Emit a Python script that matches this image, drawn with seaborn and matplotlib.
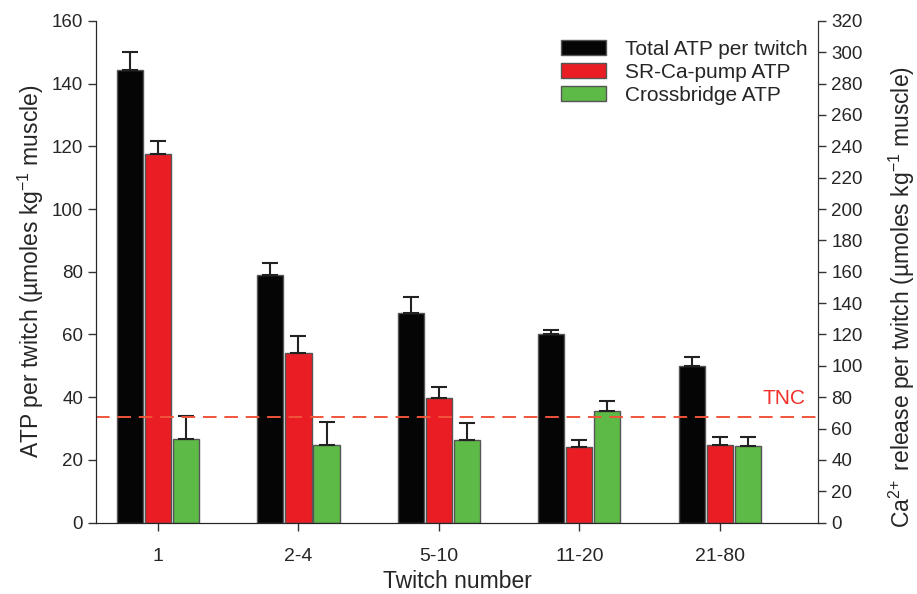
import pandas as pd
import numpy as np
import matplotlib
matplotlib.use('Agg')
import matplotlib.pyplot as plt
import seaborn as sns

# data (umoles/kg muscle)
groups = ['1', '2-4', '5-10', '11-20', '21-80']
series = ['Total ATP per twitch', 'SR-Ca-pump ATP', 'Crossbridge ATP']
total_atp = [144.4, 79.0, 67.0, 60.1, 49.8]
total_err = [5.8, 3.7, 4.8, 1.4, 3.1]
pump_atp = [117.5, 54.1, 39.9, 24.0, 24.9]
pump_err = [4.3, 5.5, 3.5, 2.5, 2.3]
xbridge_atp = [26.7, 24.8, 26.5, 35.7, 24.5]
xbridge_err = [7.2, 7.2, 5.3, 3.0, 2.8]
tnc_level = 33.7

colors = ['#050505', '#ea1c24', '#5dba46']

df = pd.DataFrame({
    'twitch': groups * 3,
    'series': np.repeat(series, len(groups)),
    'atp': total_atp + pump_atp + xbridge_atp,
    'err': total_err + pump_err + xbridge_err,
})

sns.set_style('ticks')
plt.rcParams['font.family'] = ['Liberation Sans', 'DejaVu Sans']
plt.rcParams['mathtext.fontset'] = 'custom'
plt.rcParams['mathtext.rm'] = 'Liberation Sans'
plt.rcParams['mathtext.it'] = 'Liberation Sans:italic'

fig = plt.figure(figsize=(9.17, 5.94), dpi=100)
ax = fig.add_axes([0.105, 0.12, 0.787, 0.845])

sns.barplot(data=df, x='twitch', y='atp', hue='series', order=groups,
            hue_order=series, palette=colors, width=0.6, gap=0.07,
            edgecolor='#555555', linewidth=1.0, saturation=1, ax=ax,
            errorbar=None)

# error bars (upper only) from bar positions
for cont, s in zip(ax.containers, series):
    sub = df[df.series == s].set_index('twitch').loc[groups]
    xs = [b.get_x() + b.get_width() / 2 for b in cont]
    ax.errorbar(xs, sub.atp, yerr=[np.zeros(len(xs)), sub.err], fmt='none',
                ecolor='#222222', elinewidth=1.5, capsize=6, capthick=1.5,
                zorder=1)

ax.axhline(tnc_level, color='#f0553a', ls=(0, (7, 4)), lw=1.4, zorder=3)
ax.text(4.46, 36.5, 'TNC', color='#f0302a', fontsize=15, ha='center',
        va='bottom')

ax.set_xlim(-0.44, 4.70)
ax.set_ylim(0, 160)
ax.set_yticks(range(0, 161, 20))
ax.tick_params(axis='y', labelsize=13.5, length=6, width=1, color='#333333')
ax.tick_params(axis='x', labelsize=14, length=6, width=1, color='#333333',
               pad=12)
ax.set_xlabel('Twitch number', fontsize=16.5, labelpad=4)
ax.set_ylabel('ATP per twitch (µmoles kg$^{-1}$ muscle)', fontsize=16.5)
for sp in ['left', 'bottom', 'right']:
    ax.spines[sp].set_color('#333333')
ax.spines['top'].set_visible(False)

ax2 = ax.twinx()
ax2.set_ylim(0, 320)
ax2.set_yticks(range(0, 321, 20))
ax2.tick_params(labelsize=13.5, length=6, width=1, color='#333333')
ax2.set_ylabel('Ca$^{2\\!+}$ release per twitch (µmoles kg$^{-1}$ muscle)',
               fontsize=16.5)
ax2.yaxis.set_label_coords(1.095, 0.45)
ax2.spines['top'].set_visible(False)
ax2.spines['right'].set_color('#333333')

leg = ax.legend(loc='upper right', bbox_to_anchor=(1.012, 1.0),
                frameon=False, fontsize=15, handlelength=2.2,
                handleheight=0.75, labelspacing=0.2, handletextpad=0.9)

fig.savefig('out.png', dpi=100)
